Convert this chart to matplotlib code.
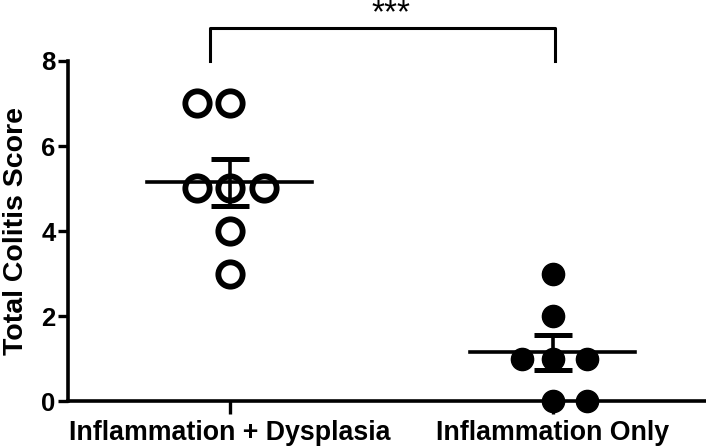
import matplotlib
matplotlib.use("Agg")
import matplotlib.pyplot as plt
import numpy as np

groups = ["Inflammation + Dysplasia", "Inflammation Only"]
# scores, with the horizontal scatter offsets used by the plot
dysplasia_scores = [7, 7, 5, 5, 5, 4, 3]
dysplasia_offsets = [-0.1, 0.0, -0.1, 0.0, 0.105, 0.0, 0.0]
inflam_scores = [3, 2, 1, 1, 1, 0, 0]
inflam_offsets = [0.0, 0.0, -0.095, 0.0, 0.105, 0.0, 0.105]
significance = "***"

plt.rcParams['font.family'] = ['Liberation Sans', 'DejaVu Sans']
plt.rcParams['font.weight'] = 'bold'

fig = plt.figure(figsize=(7.06, 4.48), dpi=100)
ax = fig.add_axes([68 / 706, (448 - 401) / 448, (706 - 68) / 706, (401 - 61) / 448])

lw = 2.6
for i, (scores, offs, filled) in enumerate([(dysplasia_scores, dysplasia_offsets, False),
                                             (inflam_scores, inflam_offsets, True)]):
    xs = i + np.array(offs)
    if filled:
        ax.plot(xs, scores, 'o', ms=16, color='black', mec='black', clip_on=False, zorder=3)
    else:
        ax.plot(xs, scores, 'o', ms=17.5, mfc='none', mec='black', mew=4.2, clip_on=False, zorder=3)
    m = np.mean(scores)
    sem = np.std(scores, ddof=1) / np.sqrt(len(scores))
    ax.plot([i - 0.255, i + 0.255], [m, m], color='black', lw=lw, zorder=4)
    ax.errorbar(i, m, yerr=sem, fmt='none', ecolor='black', elinewidth=lw,
                capsize=14, capthick=lw + 1, zorder=4)

ax.set_xlim(-0.5, 1.474)
ax.set_ylim(0, 8)
ax.set_yticks([0, 2, 4, 6, 8])
ax.set_xticks([0, 1])
ax.set_xticklabels(groups)
ax.tick_params(axis='y', labelsize=18.5, width=2.4, length=7, pad=2)
ax.tick_params(axis='x', labelsize=19.3, width=2.4, length=9, pad=5)
ax.set_ylabel("Total Colitis Score", fontsize=20.5, fontweight='bold', labelpad=9)
for s in ['top', 'right']:
    ax.spines[s].set_visible(False)
for s in ['left', 'bottom']:
    ax.spines[s].set_linewidth(2.6)

# significance bracket
ax.plot([-0.06, -0.06, 1.006, 1.006], [8.0, 8.77, 8.77, 8.0], color='black', lw=2.2,
        clip_on=False)
ax.text(0.5, 8.9, significance, ha='center', va='baseline', fontsize=24, fontweight='normal')

fig.savefig("out.png", dpi=100)
